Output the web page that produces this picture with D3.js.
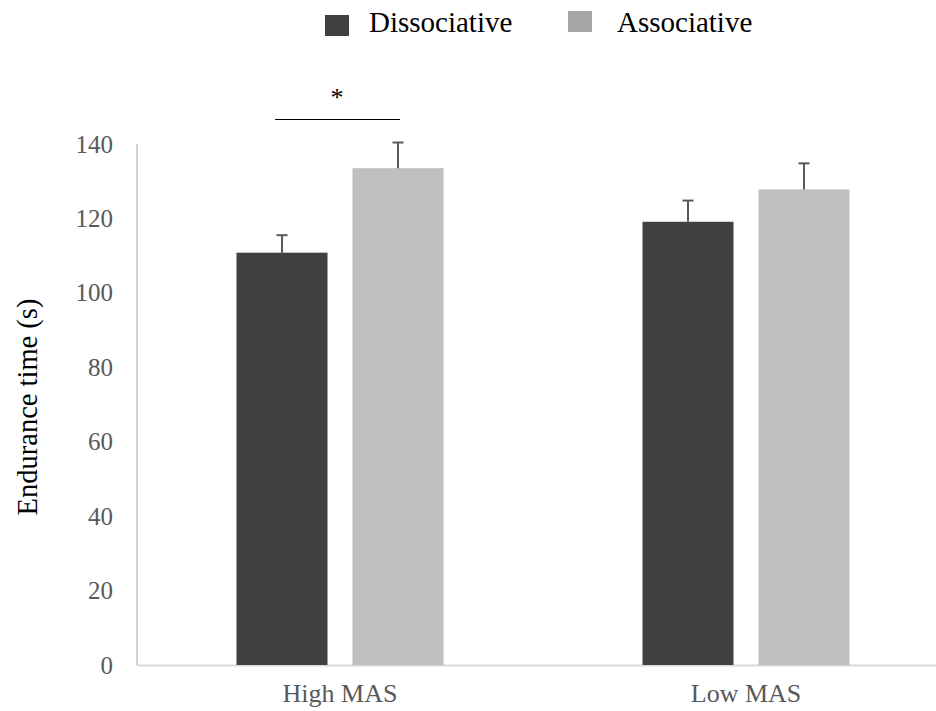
<!DOCTYPE html>
<html><head><meta charset="utf-8">
<script src="https://cdn.jsdelivr.net/npm/d3@7"></script>
<style>body{margin:0;background:#fff}svg{display:block}</style>
</head><body>
<svg id="c" width="936" height="711"></svg>
<script>
const categories = ["High MAS", "Low MAS"];
const seriesNames = ["Dissociative", "Associative"];
const dissociative = [110.8, 119.1];
const associative = [133.5, 127.8];
const dissociativeErr = [4.7, 5.7];
const associativeErr = [6.9, 7.0];
const yTicks = [0, 20, 40, 60, 80, 100, 120, 140];
const colors = ["#404040", "#bfbfbf"];
const sigLabel = "*";
const yTitle = "Endurance time (s)";

(function () {
const svg = d3.select("#c");
const font = "'Liberation Serif','Times New Roman',serif";
const mLeft = 137, mRight = 949, mTop = 144, mBottom = 665;

const y = d3.scaleLinear().domain([0, 140]).range([mBottom, mTop]);
const x = d3.scaleBand().domain(categories).range([mLeft, mRight]).paddingInner(0).paddingOuter(0);
const xs = d3.scaleBand().domain(seriesNames).range([-103.5, 103.5]).paddingInner(25/116).paddingOuter(0);

const rows = categories.map((c, i) => ({c, vals: [
  {s: seriesNames[0], v: dissociative[i], e: dissociativeErr[i], col: colors[0]},
  {s: seriesNames[1], v: associative[i], e: associativeErr[i], col: colors[1]}
]}));

svg.append("line").attr("x1", mLeft).attr("x2", 936).attr("y1", mBottom + 0.5).attr("y2", mBottom + 0.5)
  .attr("stroke", "#d9d9d9").attr("stroke-width", 2);
svg.append("line").attr("x1", mLeft).attr("x2", mLeft).attr("y1", mTop).attr("y2", mBottom)
  .attr("stroke", "#bfbfbf").attr("stroke-width", 1.5);

const yAxis = d3.axisLeft(y).tickValues(yTicks).tickSize(0).tickPadding(24);
const gy = svg.append("g").attr("transform", `translate(${mLeft},0)`).call(yAxis);
gy.select(".domain").remove();
gy.selectAll("text").attr("font-family", font).attr("font-size", 25).attr("fill", "#595959");

const xAxis = d3.axisBottom(x).tickSize(0).tickPadding(19);
const gx = svg.append("g").attr("transform", `translate(0,${mBottom})`).call(xAxis);
gx.select(".domain").remove();
gx.selectAll("text").attr("font-family", font).attr("font-size", 26).attr("fill", "#595959");

const g = svg.selectAll(".grp").data(rows).enter().append("g")
  .attr("transform", d => `translate(${x(d.c) + x.bandwidth()/2},0)`);
g.selectAll("rect").data(d => d.vals).enter().append("rect")
  .attr("x", d => xs(d.s)).attr("width", xs.bandwidth())
  .attr("y", d => y(d.v)).attr("height", d => mBottom - y(d.v))
  .attr("fill", d => d.col);
g.selectAll(".err").data(d => d.vals).enter().append("line").attr("class", "err")
  .attr("x1", d => xs(d.s) + xs.bandwidth()/2).attr("x2", d => xs(d.s) + xs.bandwidth()/2)
  .attr("y1", d => y(d.v)).attr("y2", d => y(d.v + d.e))
  .attr("stroke", "#595959").attr("stroke-width", 2);
g.selectAll(".cap").data(d => d.vals).enter().append("line").attr("class", "cap")
  .attr("x1", d => xs(d.s) + xs.bandwidth()/2 - 5.5).attr("x2", d => xs(d.s) + xs.bandwidth()/2 + 5.5)
  .attr("y1", d => y(d.v + d.e)).attr("y2", d => y(d.v + d.e))
  .attr("stroke", "#595959").attr("stroke-width", 2);

const c0 = x(categories[0]) + x.bandwidth()/2;
svg.append("line").attr("x1", c0 - 65).attr("x2", c0 + 60).attr("y1", 119.5).attr("y2", 119.5)
  .attr("stroke", "#000").attr("stroke-width", 1.2);
svg.append("text").attr("x", c0 - 3).attr("y", 106).attr("text-anchor", "middle")
  .attr("font-family", font).attr("font-size", 26).attr("fill", "#000").text(sigLabel);

svg.append("text").attr("transform", `translate(37,407) rotate(-90)`).attr("text-anchor", "middle")
  .attr("font-family", font).attr("font-size", 28.5).attr("fill", "#000").text(yTitle);

const leg = [{x: 325, tx: 369}, {x: 568, tx: 617}];
seriesNames.forEach((s, i) => {
  svg.append("rect").attr("x", leg[i].x).attr("y", i === 0 ? 15 : 11).attr("width", 24).attr("height", 21).attr("fill", i === 0 ? colors[0] : "#a6a6a6");
  svg.append("text").attr("x", leg[i].tx).attr("y", 32).attr("font-family", font).attr("font-size", 29).attr("fill", "#000").text(s);
});
})();
</script>
</body></html>
